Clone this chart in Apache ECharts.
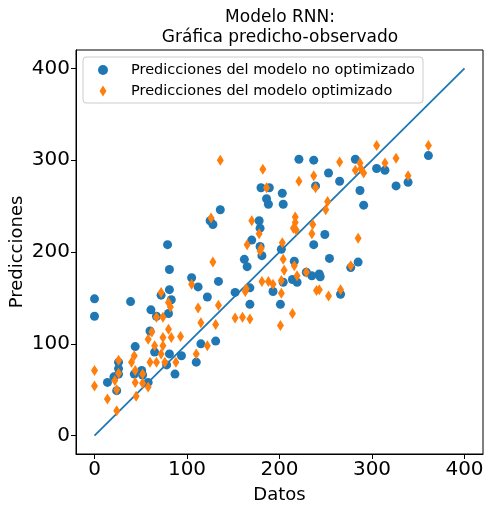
<!DOCTYPE html>
<html>
<head>
<meta charset="utf-8">
<script src="https://cdn.jsdelivr.net/npm/echarts@6/dist/echarts.min.js"></script>
<style>
  html, body { margin: 0; padding: 0; background: #fff; }
  #chart { width: 486px; height: 508px; }
</style>
</head>
<body>
<div id="chart"></div>
<script>
// Observed values (x) and predictions (y) for the model before tuning
const datosNoOpt = [0,0,14,21,24,26,26,26,39,43,44,51,52,58,60,61,65,67,72,78,79,80,81,81,83,81,87,94,105,110,112,115,122,125,128,131,134,136,152,162,165,168,168,170,178,179,179,181,180,189,186,188,193,201,202,203,204,204,214,216,219,221,229,235,237,237,239,243,244,249,253,254,265,266,277,282,285,287,291,305,314,326,339,361];
const predNoOpt  = [149,130,58,64,49,80,73,67,146,67,97,71,66,58,114,137,91,130,153,77,208,133,181,159,148,89,67,87,172,80,162,100,151,234,230,103,168,246,156,192,184,161,143,213,234,226,206,196,270,270,258,252,157,143,203,264,252,167,170,190,167,301,178,174,300,208,272,176,173,219,286,193,277,154,183,301,189,267,251,291,289,272,276,305];

// Observed values (x) and predictions (y) for the tuned model
const datosOpt = [0,0,14,24,26,26,24,22,40,43,44,44,45,52,52,58,62,58,65,74,74,67,80,83,93,72,80,82,74,60,67,76,72,88,105,112,115,110,122,131,134,128,126,136,152,160,168,163,164,165,170,178,180,179,181,182,186,188,193,201,202,202,203,204,205,214,216,217,217,215,218,219,221,229,236,235,237,239,240,243,250,252,253,265,266,277,282,285,287,288,291,305,314,326,339,361];
const predOpt  = [71,54,40,27,82,68,50,60,80,87,71,58,43,67,57,53,113,105,98,107,129,129,116,107,108,156,145,140,98,80,80,80,89,80,165,139,123,89,98,121,142,189,237,300,128,129,127,157,160,208,234,220,204,201,168,290,270,168,165,120,169,155,210,192,180,133,185,238,232,226,224,174,277,178,230,220,283,270,158,159,246,255,152,298,159,185,289,215,297,291,286,316,297,302,283,316];

// Reference line y = x
const ideal = [[0, 0], [400, 400]];
const tickValues = [0, 100, 200, 300, 400];

const toPairs = (xs, ys) => xs.map((x, i) => [x, ys[i]]);

const FONT = 'DejaVu Sans';
const chart = echarts.init(document.getElementById('chart'), null, { renderer: 'canvas' });

const axisCommon = {
  type: 'value',
  min: -20,
  max: 420,
  splitLine: { show: false },
  axisLine: { show: true, onZero: false, lineStyle: { color: '#000', width: 1 } },
  axisTick: { show: true, customValues: tickValues, length: 5, lineStyle: { color: '#000', width: 1 } },
  axisLabel: { customValues: tickValues, color: '#000', fontFamily: FONT, fontSize: 20, margin: 6 },
  nameLocation: 'middle',
  nameMoveOverlap: false,
  nameTextStyle: { color: '#000', fontFamily: FONT, fontSize: 18 }
};

chart.setOption({
  animation: false,
  backgroundColor: '#fff',
  grid: {
    left: 76, right: 3, top: 50, bottom: 54,
    outerBoundsMode: 'none', containLabel: false,
    show: true, borderColor: '#000', borderWidth: 1
  },
  xAxis: Object.assign({}, axisCommon, { name: 'Datos', nameGap: 32 }),
  yAxis: Object.assign({}, axisCommon, { name: 'Predicciones', nameGap: 50 }),
  graphic: [{
    type: 'text',
    x: 280,
    y: 8,
    style: {
      text: 'Modelo RNN:\nGráfica predicho-observado',
      align: 'center',
      verticalAlign: 'top',
      fontFamily: FONT,
      fontSize: 17,
      lineHeight: 20,
      fill: '#000'
    }
  }],
  legend: {
    left: 83,
    top: 57,
    orient: 'vertical',
    backgroundColor: 'rgba(255,255,255,0.8)',
    borderColor: '#cccccc',
    borderWidth: 1,
    borderRadius: 3,
    padding: [5, 8, 4, 15],
    itemGap: 5,
    itemWidth: 10,
    itemHeight: 11,
    textStyle: { color: '#000', fontFamily: FONT, fontSize: 14.5, lineHeight: 16, padding: [0, 0, 0, 18] },
    data: [
      { name: 'Predicciones del modelo no optimizado', icon: 'circle' },
      { name: 'Predicciones del modelo optimizado', icon: 'path://M3.5,0L7,5.5L3.5,11L0,5.5Z' }
    ]
  },
  series: [
    {
      name: 'ideal',
      type: 'line',
      data: ideal,
      symbol: 'none',
      lineStyle: { color: '#1f77b4', width: 1.8 },
      z: 1,
      silent: true
    },
    {
      name: 'Predicciones del modelo no optimizado',
      type: 'scatter',
      data: toPairs(datosNoOpt, predNoOpt),
      symbol: 'circle',
      symbolSize: 9,
      symbolKeepAspect: true,
      itemStyle: { color: '#1f77b4', opacity: 1 },
      z: 2
    },
    {
      name: 'Predicciones del modelo optimizado',
      type: 'scatter',
      data: toPairs(datosOpt, predOpt),
      symbol: 'diamond',
      symbolSize: [7, 11],
      symbolKeepAspect: true,
      itemStyle: { color: '#ff7f0e', opacity: 1 },
      z: 3
    }
  ]
});
</script>
</body>
</html>
